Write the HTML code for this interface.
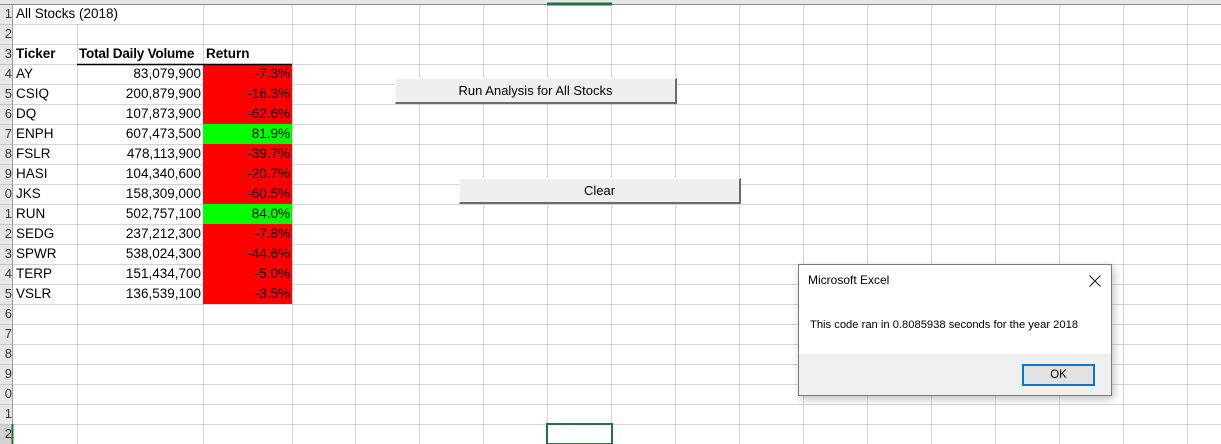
<!DOCTYPE html>
<html><head><meta charset="utf-8"><style>
body{margin:0;width:1221px;height:444px;overflow:hidden;background:#fff;font-family:"Liberation Sans",Arial,sans-serif;position:relative}
.a{position:absolute}
.t{position:absolute;font-size:13.5px;color:#000;line-height:20px;height:20px;white-space:nowrap}
.r{text-align:right}
.rh{position:absolute;left:0;width:12px;font-size:13px;line-height:20px;color:#333;text-align:right;overflow:hidden}
.btn{position:absolute;background:#efefef;border-top:1px solid #fff;border-left:1px solid #fff;border-right:2px solid #6b6b6b;border-bottom:2px solid #6b6b6b;box-sizing:border-box;font-size:13px;text-align:center;line-height:23px}
</style></head><body>
<svg class="a" style="left:0;top:0" width="1221" height="444">
<rect x="0" y="0" width="1221" height="4" fill="#e6e6e6"/>
<rect x="0" y="0" width="13" height="444" fill="#e6e6e6"/>
<rect x="0" y="424" width="13" height="20" fill="#d2d2d2"/>
<g stroke="#d4d4d4" stroke-width="1">
<line x1="13" y1="24.5" x2="1221" y2="24.5"/><line x1="13" y1="44.5" x2="1221" y2="44.5"/><line x1="13" y1="64.5" x2="1221" y2="64.5"/><line x1="13" y1="84.5" x2="1221" y2="84.5"/><line x1="13" y1="104.5" x2="1221" y2="104.5"/><line x1="13" y1="124.5" x2="1221" y2="124.5"/><line x1="13" y1="144.5" x2="1221" y2="144.5"/><line x1="13" y1="164.5" x2="1221" y2="164.5"/><line x1="13" y1="184.5" x2="1221" y2="184.5"/><line x1="13" y1="204.5" x2="1221" y2="204.5"/><line x1="13" y1="224.5" x2="1221" y2="224.5"/><line x1="13" y1="244.5" x2="1221" y2="244.5"/><line x1="13" y1="264.5" x2="1221" y2="264.5"/><line x1="13" y1="284.5" x2="1221" y2="284.5"/><line x1="13" y1="304.5" x2="1221" y2="304.5"/><line x1="13" y1="324.5" x2="1221" y2="324.5"/><line x1="13" y1="344.5" x2="1221" y2="344.5"/><line x1="13" y1="364.5" x2="1221" y2="364.5"/><line x1="13" y1="384.5" x2="1221" y2="384.5"/><line x1="13" y1="404.5" x2="1221" y2="404.5"/><line x1="13" y1="424.5" x2="1221" y2="424.5"/>
<line x1="77.5" y1="4" x2="77.5" y2="444"/><line x1="203.5" y1="4" x2="203.5" y2="444"/><line x1="292.5" y1="4" x2="292.5" y2="444"/><line x1="355.5" y1="4" x2="355.5" y2="444"/><line x1="419.5" y1="4" x2="419.5" y2="444"/><line x1="483.5" y1="4" x2="483.5" y2="444"/><line x1="547.5" y1="4" x2="547.5" y2="444"/><line x1="611.5" y1="4" x2="611.5" y2="444"/><line x1="675.5" y1="4" x2="675.5" y2="444"/><line x1="739.5" y1="4" x2="739.5" y2="444"/><line x1="803.5" y1="4" x2="803.5" y2="444"/><line x1="867.5" y1="4" x2="867.5" y2="444"/><line x1="931.5" y1="4" x2="931.5" y2="444"/><line x1="995.5" y1="4" x2="995.5" y2="444"/><line x1="1059.5" y1="4" x2="1059.5" y2="444"/><line x1="1123.5" y1="4" x2="1123.5" y2="444"/><line x1="1187.5" y1="4" x2="1187.5" y2="444"/>
</g>
<rect x="14" y="5" width="188" height="19" fill="#fff"/>
<g stroke="#c6c6c6"><line x1="0" y1="24.5" x2="13" y2="24.5"/><line x1="0" y1="44.5" x2="13" y2="44.5"/><line x1="0" y1="64.5" x2="13" y2="64.5"/><line x1="0" y1="84.5" x2="13" y2="84.5"/><line x1="0" y1="104.5" x2="13" y2="104.5"/><line x1="0" y1="124.5" x2="13" y2="124.5"/><line x1="0" y1="144.5" x2="13" y2="144.5"/><line x1="0" y1="164.5" x2="13" y2="164.5"/><line x1="0" y1="184.5" x2="13" y2="184.5"/><line x1="0" y1="204.5" x2="13" y2="204.5"/><line x1="0" y1="224.5" x2="13" y2="224.5"/><line x1="0" y1="244.5" x2="13" y2="244.5"/><line x1="0" y1="264.5" x2="13" y2="264.5"/><line x1="0" y1="284.5" x2="13" y2="284.5"/><line x1="0" y1="304.5" x2="13" y2="304.5"/><line x1="0" y1="324.5" x2="13" y2="324.5"/><line x1="0" y1="344.5" x2="13" y2="344.5"/><line x1="0" y1="364.5" x2="13" y2="364.5"/><line x1="0" y1="384.5" x2="13" y2="384.5"/><line x1="0" y1="404.5" x2="13" y2="404.5"/><line x1="0" y1="424.5" x2="13" y2="424.5"/></g>
<line x1="0" y1="4.5" x2="1221" y2="4.5" stroke="#8a8a8a"/>
<line x1="12.5" y1="4" x2="12.5" y2="444" stroke="#9a9a9a"/>
<line x1="547" y1="4" x2="612" y2="4" stroke="#217346" stroke-width="3"/>
<line x1="12.5" y1="424" x2="12.5" y2="444" stroke="#217346" stroke-width="2"/>
<rect x="203" y="64" width="89" height="240" fill="#ff0000"/>
<rect x="203" y="124" width="89" height="20" fill="#00ff00"/>
<rect x="203" y="204" width="89" height="20" fill="#00ff00"/>
<line x1="77" y1="64.5" x2="292" y2="64.5" stroke="#000" stroke-width="1.5"/>
<rect x="547" y="424" width="65" height="20" fill="none" stroke="#217346" stroke-width="2"/>
</svg>
<div class="rh" style="top:4px">1</div><div class="rh" style="top:24px">2</div><div class="rh" style="top:44px">3</div><div class="rh" style="top:64px">4</div><div class="rh" style="top:84px">5</div><div class="rh" style="top:104px">6</div><div class="rh" style="top:124px">7</div><div class="rh" style="top:144px">8</div><div class="rh" style="top:164px">9</div><div class="rh" style="top:184px">0</div><div class="rh" style="top:204px">1</div><div class="rh" style="top:224px">2</div><div class="rh" style="top:244px">3</div><div class="rh" style="top:264px">4</div><div class="rh" style="top:284px">5</div><div class="rh" style="top:304px">6</div><div class="rh" style="top:324px">7</div><div class="rh" style="top:344px">8</div><div class="rh" style="top:364px">9</div><div class="rh" style="top:384px">0</div><div class="rh" style="top:404px">1</div><div class="rh" style="top:424px">2</div>
<div class="t" style="left:16px;top:4px">All Stocks (2018)</div>
<div class="t" style="left:16px;top:44px;font-weight:bold">Ticker</div>
<div class="t" style="left:79px;top:44px;font-weight:bold;letter-spacing:-0.2px">Total Daily Volume</div>
<div class="t" style="left:206px;top:44px;font-weight:bold">Return</div>
<div class="t" style="left:16px;top:64px">AY</div><div class="t r" style="left:78px;width:123px;top:64px">83,079,900</div><div class="t r" style="left:204px;width:86px;top:64px">-7.3%</div>
<div class="t" style="left:16px;top:84px">CSIQ</div><div class="t r" style="left:78px;width:123px;top:84px">200,879,900</div><div class="t r" style="left:204px;width:86px;top:84px">-16.3%</div>
<div class="t" style="left:16px;top:104px">DQ</div><div class="t r" style="left:78px;width:123px;top:104px">107,873,900</div><div class="t r" style="left:204px;width:86px;top:104px">-62.6%</div>
<div class="t" style="left:16px;top:124px">ENPH</div><div class="t r" style="left:78px;width:123px;top:124px">607,473,500</div><div class="t r" style="left:204px;width:86px;top:124px">81.9%</div>
<div class="t" style="left:16px;top:144px">FSLR</div><div class="t r" style="left:78px;width:123px;top:144px">478,113,900</div><div class="t r" style="left:204px;width:86px;top:144px">-39.7%</div>
<div class="t" style="left:16px;top:164px">HASI</div><div class="t r" style="left:78px;width:123px;top:164px">104,340,600</div><div class="t r" style="left:204px;width:86px;top:164px">-20.7%</div>
<div class="t" style="left:16px;top:184px">JKS</div><div class="t r" style="left:78px;width:123px;top:184px">158,309,000</div><div class="t r" style="left:204px;width:86px;top:184px">-60.5%</div>
<div class="t" style="left:16px;top:204px">RUN</div><div class="t r" style="left:78px;width:123px;top:204px">502,757,100</div><div class="t r" style="left:204px;width:86px;top:204px">84.0%</div>
<div class="t" style="left:16px;top:224px">SEDG</div><div class="t r" style="left:78px;width:123px;top:224px">237,212,300</div><div class="t r" style="left:204px;width:86px;top:224px">-7.8%</div>
<div class="t" style="left:16px;top:244px">SPWR</div><div class="t r" style="left:78px;width:123px;top:244px">538,024,300</div><div class="t r" style="left:204px;width:86px;top:244px">-44.6%</div>
<div class="t" style="left:16px;top:264px">TERP</div><div class="t r" style="left:78px;width:123px;top:264px">151,434,700</div><div class="t r" style="left:204px;width:86px;top:264px">-5.0%</div>
<div class="t" style="left:16px;top:284px">VSLR</div><div class="t r" style="left:78px;width:123px;top:284px">136,539,100</div><div class="t r" style="left:204px;width:86px;top:284px">-3.5%</div>
<div class="btn" style="left:395px;top:78px;width:282px;height:26px">Run Analysis for All Stocks</div>
<div class="btn" style="left:459px;top:178px;width:282px;height:26px">Clear</div>
<div class="a" style="left:798px;top:264px;width:314px;height:132px;border:1px solid #7a7a7a;box-sizing:border-box;background:#fff;box-shadow:2px 3px 8px rgba(0,0,0,0.25)">
<div class="a" style="left:9px;top:8px;font-size:12px;color:#000">Microsoft Excel</div>
<svg class="a" style="left:290px;top:10px" width="12" height="12"><path d="M0.5 0.5L11.5 11.5M11.5 0.5L0.5 11.5" stroke="#222" stroke-width="1.1"/></svg>
<div class="a" style="left:11px;top:54px;font-size:11.2px;color:#000">This code ran in 0.8085938 seconds for the year 2018</div>
<div class="a" style="left:0;top:89px;width:312px;height:41px;background:#f0f0f0"></div>
<div class="a" style="left:223px;top:99px;width:73px;height:22px;box-sizing:border-box;border:2px solid #0078d7;background:#e1e1e1;text-align:center;font-size:11.5px;line-height:18px">OK</div>
</div>
</body></html>
